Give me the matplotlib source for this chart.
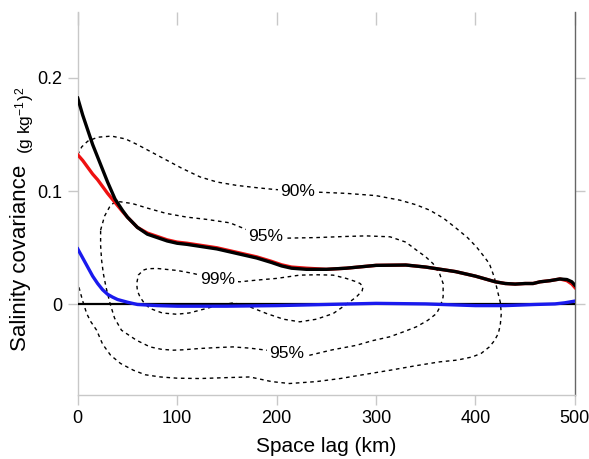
import numpy as np
import matplotlib
matplotlib.use('Agg')
import matplotlib.pyplot as plt

plt.rcParams['font.family'] = ['Liberation Sans', 'DejaVu Sans']
plt.rcParams['mathtext.fontset'] = 'custom'
plt.rcParams['mathtext.rm'] = 'Liberation Sans'
plt.rcParams['mathtext.it'] = 'Liberation Sans'
plt.rcParams['mathtext.default'] = 'regular'

# covariance curves (space lag in km, covariance in (g/kg)^2)
lag_red = [0, 5, 10, 15, 20, 25, 30, 37.5, 45, 50, 60, 70, 80, 90, 100, 110, 125, 140,
           150, 165, 180, 195, 205, 215, 230, 250, 270, 300, 330, 350, 365, 380, 400,
           410, 420, 430, 440, 450, 458, 465, 475, 485, 492, 497, 500]
cov_red = [0.132, 0.127, 0.121, 0.115, 0.110, 0.104, 0.098, 0.090, 0.082, 0.077, 0.068,
           0.063, 0.060, 0.057, 0.055, 0.054, 0.052, 0.050, 0.048, 0.045, 0.042, 0.038,
           0.035, 0.033, 0.032, 0.031, 0.032, 0.0345, 0.0348, 0.033, 0.031, 0.029, 0.025,
           0.0225, 0.020, 0.0185, 0.018, 0.0185, 0.0185, 0.020, 0.021, 0.0225, 0.021,
           0.018, 0.015]

lag_black = [0, 5, 10, 15, 20, 25, 30, 37.5, 45, 50, 60, 70, 80, 90, 100, 110, 125, 140,
             150, 165, 180, 195, 205, 215, 230, 250, 270, 300, 330, 350, 365, 380, 400,
             410, 420, 430, 440, 450, 458, 465, 475, 485, 492, 497, 500]
cov_black = [0.182, 0.167, 0.154, 0.141, 0.130, 0.119, 0.108, 0.093, 0.083, 0.077, 0.068,
             0.062, 0.059, 0.056, 0.054, 0.053, 0.051, 0.049, 0.047, 0.044, 0.041, 0.037,
             0.034, 0.032, 0.031, 0.031, 0.032, 0.0345, 0.0348, 0.033, 0.031, 0.029, 0.025,
             0.0225, 0.020, 0.0185, 0.018, 0.0185, 0.0185, 0.020, 0.021, 0.0225, 0.022,
             0.020, 0.017]

lag_blue = [0, 5, 10, 15, 20, 25, 30, 35, 40, 50, 60, 80, 100, 150, 200, 250, 300, 350,
            400, 430, 460, 480, 490, 500]
cov_blue = [0.049, 0.041, 0.033, 0.025, 0.0185, 0.013, 0.009, 0.0065, 0.0044, 0.002, 0.0,
            -0.001, -0.0015, -0.0015, -0.001, 0.0, 0.001, 0.0005, -0.001, -0.001, 0.0,
            0.0005, 0.0015, 0.003]

# confidence contours
c90_x = [0, 4, 10, 20, 34, 48, 60, 75, 90, 105, 123, 140, 160, 180, 197, 221, 243, 270,
         300, 324, 340, 354, 368, 381, 392, 401, 408, 414, 419, 422, 425, 426, 425, 423,
         419, 414, 406, 397, 382, 364, 340, 314, 290, 264, 240, 213, 195, 173, 150, 123,
         100, 83, 68, 56, 43, 33, 25, 19, 13, 9, 5, 2, 0]
c90_y = [0.132, 0.139, 0.144, 0.1475, 0.1485, 0.146, 0.141, 0.134, 0.127, 0.120, 0.1125,
         0.108, 0.105, 0.103, 0.1015, 0.100, 0.099, 0.098, 0.096, 0.092, 0.088, 0.0832,
         0.076, 0.067, 0.059, 0.0508, 0.043, 0.036, 0.024, 0.0126, 0.002, -0.008, -0.018,
         -0.0256, -0.032, -0.0374, -0.043, -0.0462, -0.049, -0.0506, -0.054, -0.058,
         -0.0615, -0.0653, -0.068, -0.0697, -0.068, -0.0639, -0.0645, -0.0653, -0.065,
         -0.0639, -0.062, -0.058, -0.052, -0.0447, -0.035, -0.0227, -0.015, -0.008, 0.003,
         0.0126, 0.019]

c95_x = [23, 27, 32, 36, 42.5, 55, 70, 89, 110, 130, 153, 170, 189, 210, 240, 270, 290,
         314, 330, 340.6, 350, 357.4, 364, 367.5, 367.5, 365, 360.8, 352, 340.6, 328,
         313.8, 296, 280.3, 256, 233.5, 210.5, 190, 173, 156, 140, 123, 105, 96, 84,
         72.7, 59, 44, 37, 32.5, 28.5, 25.8, 24, 23, 23]
c95_y = [0.0656, 0.078, 0.086, 0.0895, 0.0906, 0.089, 0.085, 0.0803, 0.077, 0.075, 0.072,
         0.066, 0.060, 0.0585, 0.059, 0.060, 0.0605, 0.0597, 0.055, 0.048, 0.042, 0.036,
         0.027, 0.0185, 0.0067, -0.001, -0.008, -0.014, -0.0197, -0.024, -0.0285, -0.032,
         -0.036, -0.040, -0.0447, -0.043, -0.0403, -0.0385, -0.0374, -0.038, -0.0388,
         -0.040, -0.0403, -0.0395, -0.0374, -0.0315, -0.0227, -0.012, 0.0009, 0.015, 0.027,
         0.039, 0.052, 0.0656]

c99_x = [141, 116, 100, 79.4, 70, 66, 61, 59.3, 60, 62.6, 67, 72.7, 85, 99.4, 112, 123,
         140, 156.4, 170, 190, 207, 223.4, 240, 256.9, 270, 280.3, 286, 287, 284, 280.3,
         270, 256.9, 240, 223.4, 200, 180, 163, 141]
c99_y = [0.022, 0.0274, 0.030, 0.0318, 0.0315, 0.0303, 0.026, 0.0185, 0.012, 0.0067,
         0.001, -0.0035, -0.0075, -0.0086, -0.0075, -0.005, -0.001, 0.0014, -0.001, -0.008,
         -0.013, -0.0153, -0.013, -0.008, 0.0, 0.0067, 0.012, 0.0156, 0.0185, 0.020, 0.023,
         0.0259, 0.0262, 0.0259, 0.023, 0.0215, 0.020, 0.022]

contour_labels = ['90%', '95%', '99%', '95%']
label_x = [221, 189, 141, 210]
label_y = [0.100, 0.060, 0.022, -0.043]

fig = plt.figure(figsize=(5.89, 4.59), dpi=100)
ax = fig.add_axes([0.132, 0.139, 0.844, 0.835])

dash = (0, (2.6, 2.6))
for cx, cy in [(c90_x, c90_y), (c95_x, c95_y), (c99_x, c99_y)]:
    ax.plot(cx, cy, color='k', lw=1.0, linestyle=dash, zorder=2)

for txt, lx, ly in zip(contour_labels, label_x, label_y):
    ax.text(lx, ly, txt, fontsize=12.5, ha='center', va='center', zorder=3,
            bbox=dict(facecolor='white', edgecolor='none', pad=1.5))

ax.axhline(0, color='k', lw=1.6, zorder=4)
ax.plot(lag_red, cov_red, color='#ee1111', lw=2.4, zorder=5)
ax.plot(lag_black, cov_black, color='k', lw=2.4, zorder=6)
ax.plot(lag_blue, cov_blue, color='#1a1aee', lw=2.4, zorder=7)

ax.set_xlim(0, 500)
ax.set_ylim(-0.08, 0.258)
ax.set_xticks([0, 100, 200, 300, 400, 500])
ax.set_yticks([0, 0.1, 0.2])
ax.set_yticklabels(['0', '0.1', '0.2'])

ax.spines['top'].set_visible(False)
ax.spines['left'].set_color('#c8c8c8')
ax.spines['bottom'].set_color('#c8c8c8')
ax.spines['right'].set_color('#666666')
for s in ['left', 'bottom', 'right']:
    ax.spines[s].set_linewidth(1.0)

ax.tick_params(axis='both', labelsize=13, color='#c8c8c8', length=7, width=1.0,
               direction='out', pad=4)
ax.tick_params(axis='y', right=True, labelright=False)
ax.tick_params(axis='x', top=True, labeltop=False)
for t in ax.xaxis.get_major_ticks():
    t.tick2line.set_markersize(9)
    t.tick2line.set_marker(3)  # tick hanging down from the top edge

ax.set_xlabel('Space lag (km)', fontsize=15, labelpad=7)
fig.text(0.034, 0.438, 'Salinity covariance', fontsize=16, rotation=90,
         ha='center', va='center')
fig.text(0.042, 0.737, r'(g kg$^{-1}$)$^{2}$', fontsize=12.5, rotation=90,
         ha='center', va='center')

fig.savefig('out.png', dpi=100)
